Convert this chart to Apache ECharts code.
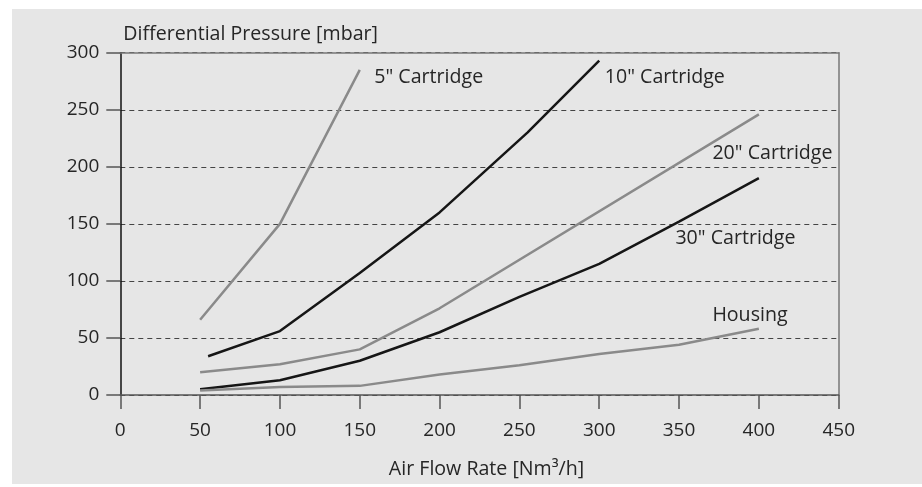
<!DOCTYPE html>
<html>
<head>
<meta charset="utf-8">
<script src="https://cdn.jsdelivr.net/npm/echarts@6/dist/echarts.min.js"></script>
<style>
	html, body { margin: 0; padding: 0; background: #fff; }
	#chart { position: absolute; left: 12px; top: 9px; width: 910px; height: 475px; background: #e6e6e6; }
</style>
</head>
<body>
<div id="chart"></div>
<script>
// 数据 (x = Nm3/h, y = mbar)
var xTicks = [0, 50, 100, 150, 200, 250, 300, 350, 400, 450];
var yTicks = [0, 50, 100, 150, 200, 250, 300];
var seriesNames = ['5" Cartridge', '10" Cartridge', '20" Cartridge', '30" Cartridge', 'Housing'];
var cart5 = [[50, 66], [100, 150], [150, 285]];
var cart10 = [[55, 34], [100, 56], [150, 107], [200, 160], [255, 230], [300, 293]];
var cart20 = [[50, 20], [100, 27], [150, 40], [200, 76], [400, 246]];
var cart30 = [[50, 5], [100, 13], [150, 30], [200, 55], [250, 86], [300, 115], [350, 152], [400, 190]];
var housing = [[50, 4], [100, 7], [150, 8], [200, 18], [250, 26], [300, 36], [350, 44], [400, 58]];

var GREY = '#8a8a8a';
var BLACK = '#161616';
var TEXT = '#262626';
var FONT = '"Open Sans", sans-serif';
var TICK_SIZE = 19;
var NAME_SIZE = 19.6;

function makeLine(name, data, color, offset) {
	return {
		name: name,
		type: 'line',
		data: data,
		symbol: 'none',
		silent: true,
		lineStyle: { color: color, width: 2.5 },
		endLabel: {
			show: true,
			formatter: '{a}',
			color: TEXT,
			fontFamily: FONT,
			fontSize: NAME_SIZE,
			align: 'left',
			verticalAlign: 'middle',
			offset: offset
		}
	};
}

var chart = echarts.init(document.getElementById('chart'));
var option = {
	animation: false,
	textStyle: { fontFamily: FONT },
	grid: { left: 108.3, right: 83.3, top: 43.7, bottom: 85.3 },
	xAxis: [{
		type: 'value',
		min: xTicks[0],
		max: xTicks[xTicks.length - 1],
		interval: 50,
		name: 'Air Flow Rate [Nm³/h]',
		nameLocation: 'middle',
		nameGap: 64,
		nameTextStyle: { color: TEXT, fontSize: NAME_SIZE, fontFamily: FONT, padding: [0, 0, 0, 14] },
		axisLine: { onZero: false, lineStyle: { color: '#555', width: 1.5 } },
		axisTick: { show: true, length: 14, lineStyle: { color: '#555', width: 1.5 } },
		axisLabel: { color: TEXT, fontSize: TICK_SIZE, fontFamily: FONT, margin: 26 },
		splitLine: { show: false }
	}, {
		type: 'value',
		position: 'top',
		min: 0,
		max: 450,
		axisLine: { show: true, onZero: false, lineStyle: { color: '#777', width: 1.5 } },
		axisTick: { show: false },
		axisLabel: { show: false },
		splitLine: { show: false }
	}],
	yAxis: [{
		type: 'value',
		min: yTicks[0],
		max: yTicks[yTicks.length - 1],
		interval: 50,
		name: 'Differential Pressure [mbar]',
		nameLocation: 'end',
		nameGap: 18,
		nameTextStyle: { color: TEXT, fontSize: NAME_SIZE, fontFamily: FONT, align: 'left', verticalAlign: 'middle', padding: [0, 0, 0, 3] },
		axisLine: { show: true, onZero: false, lineStyle: { color: '#111', width: 1.5 } },
		axisTick: { show: true, length: 14, lineStyle: { color: '#555', width: 1.5 } },
		axisLabel: { color: TEXT, fontSize: TICK_SIZE, fontFamily: FONT, margin: 21 },
		splitLine: { show: true, lineStyle: { color: '#444', width: 1, type: [5, 4] } }
	}, {
		type: 'value',
		position: 'right',
		min: 0,
		max: 300,
		axisLine: { show: true, onZero: false, lineStyle: { color: '#777', width: 1.5 } },
		axisTick: { show: false },
		axisLabel: { show: false },
		splitLine: { show: false }
	}],
	series: [
		makeLine(seriesNames[0], cart5, GREY, [6.5, 8]),
		makeLine(seriesNames[1], cart10, BLACK, [-2.5, 17]),
		makeLine(seriesNames[2], cart20, GREY, [-54.5, 39]),
		makeLine(seriesNames[3], cart30, BLACK, [-91.5, 60]),
		makeLine(seriesNames[4], housing, GREY, [-54.5, -13])
	]
};
chart.setOption(option);
</script>
</body>
</html>
